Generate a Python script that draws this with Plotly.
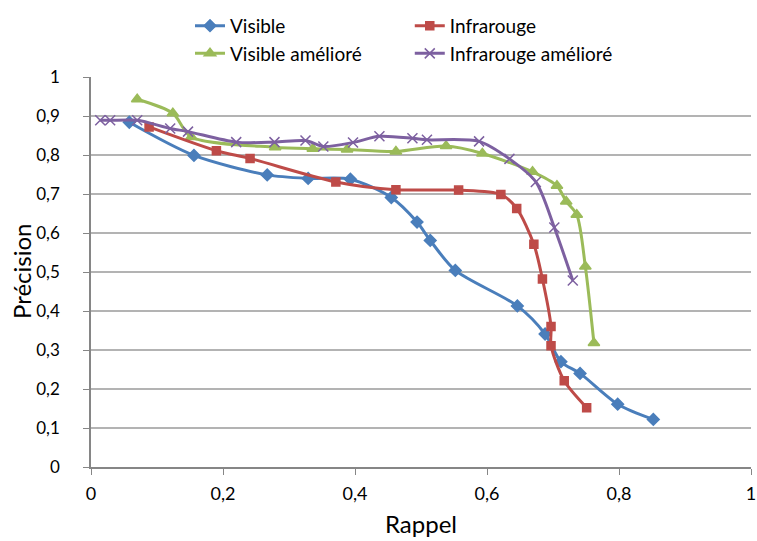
import plotly.graph_objects as go

# Rappel / Précision for each method
visible_x = [0.058, 0.156, 0.267, 0.329, 0.393, 0.455, 0.494, 0.514, 0.552, 0.646, 0.688, 0.712, 0.741, 0.798, 0.852]
visible_y = [0.884, 0.799, 0.749, 0.740, 0.738, 0.691, 0.628, 0.581, 0.504, 0.413, 0.341, 0.270, 0.240, 0.161, 0.122]

infra_x = [0.088, 0.190, 0.241, 0.371, 0.462, 0.557, 0.621, 0.645, 0.671, 0.684, 0.697, 0.697, 0.717, 0.751]
infra_y = [0.872, 0.811, 0.791, 0.731, 0.711, 0.710, 0.699, 0.663, 0.571, 0.482, 0.360, 0.311, 0.221, 0.152]

vis_am_x = [0.070, 0.124, 0.152, 0.279, 0.336, 0.388, 0.462, 0.538, 0.593, 0.669, 0.706, 0.720, 0.736, 0.749, 0.762]
vis_am_y = [0.943, 0.907, 0.846, 0.820, 0.816, 0.814, 0.809, 0.823, 0.804, 0.757, 0.721, 0.681, 0.647, 0.514, 0.318]

inf_am_x = [0.014, 0.029, 0.070, 0.120, 0.147, 0.220, 0.278, 0.325, 0.352, 0.397, 0.437, 0.487, 0.509, 0.588, 0.634, 0.674, 0.702, 0.730]
inf_am_y = [0.889, 0.889, 0.889, 0.868, 0.860, 0.833, 0.833, 0.837, 0.822, 0.832, 0.848, 0.843, 0.839, 0.835, 0.790, 0.731, 0.614, 0.478]

FONT = "Lato"

def serie(x, y, nom, couleur, symbole, taille, legende):
    return go.Scatter(
        x=x, y=y, name=nom, mode="lines+markers", legend=legende,
        line=dict(color=couleur, width=3, shape="spline", smoothing=0.8),
        marker=dict(symbol=symbole, size=taille, color=couleur,
                    line=dict(color=couleur, width=1.5)),
    )

fig = go.Figure()
fig.add_trace(serie(visible_x, visible_y, "Visible", "#4A7EBB", "diamond", 9, "legend"))
fig.add_trace(serie(vis_am_x, vis_am_y, "Visible amélioré", "#9BBB59", "triangle-up", 10, "legend"))
fig.add_trace(serie(infra_x, infra_y, "Infrarouge", "#BE4B48", "square", 8, "legend2"))
fig.add_trace(serie(inf_am_x, inf_am_y, "Infrarouge amélioré", "#7D60A0", "x-thin", 10, "legend2"))

leg = dict(orientation="v", yanchor="top", xanchor="left", y=1.18, yref="paper",
           font=dict(family=FONT, size=19, color="#000"), bgcolor="rgba(0,0,0,0)",
           tracegroupgap=0, itemwidth=30)

fig.update_layout(
    width=757, height=541,
    margin=dict(l=91, r=6, t=77, b=74, autoexpand=False),
    paper_bgcolor="white", plot_bgcolor="white",
    separators=", ",
    font=dict(family=FONT, size=17, color="#000"),
    legend=dict(leg, x=0.15),
    legend2=dict(leg, x=0.483),
    showlegend=True,
)
fig.update_xaxes(
    range=[0, 1], dtick=0.2, tick0=0, showgrid=False,
    showline=True, linecolor="#868686", linewidth=1.5,
    ticks="outside", ticklen=6, tickcolor="#868686",
    tickfont=dict(size=18), zeroline=False, automargin=False,
    ticklabelstandoff=4, ticklabeloverflow="allow",
)
fig.update_yaxes(
    range=[0, 1], dtick=0.1, tick0=0, showgrid=True, gridcolor="#B3B3B3", gridwidth=1.5,
    showline=True, linecolor="#868686", linewidth=1.5,
    ticks="outside", ticklen=6, tickcolor="#868686",
    tickfont=dict(size=17), zeroline=False, automargin=False,
    ticklabelstandoff=20,
)
fig.add_annotation(text="Rappel", x=0.5, y=-56 / 390, xref="paper", yref="paper",
                   yanchor="middle", showarrow=False, font=dict(size=24))
fig.add_annotation(text="Précision", x=-70 / 660, y=0.5, xref="paper", yref="paper",
                   xanchor="center", showarrow=False, textangle=-90, font=dict(size=24))

# drop the default body margin so the figure fills the window exactly
fig.write_html("out.html", config={"displayModeBar": False},
               post_script="document.body.style.margin='0';document.body.style.overflow='hidden';")
